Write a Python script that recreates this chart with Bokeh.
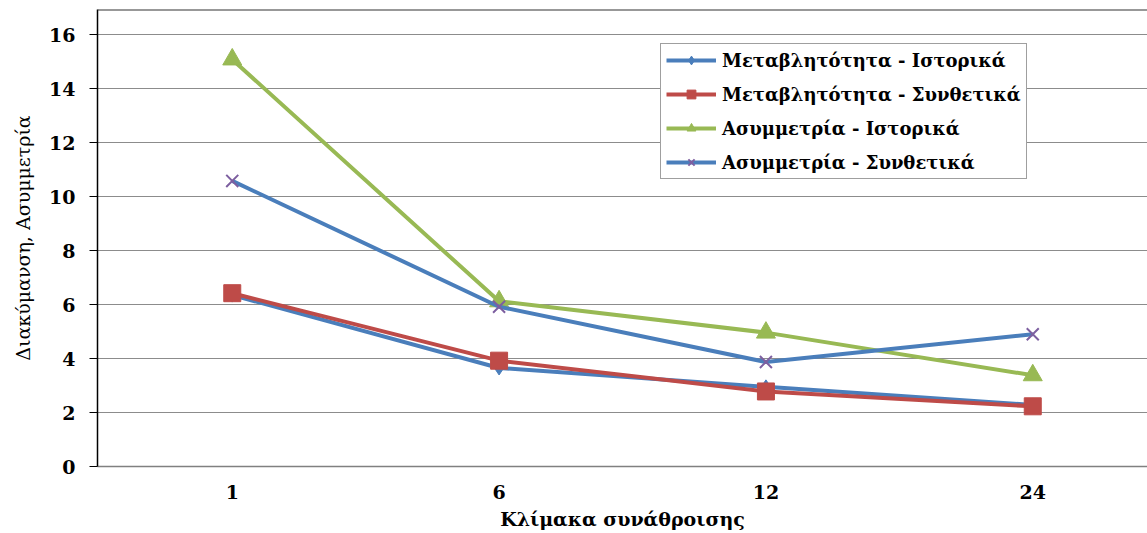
from bokeh.plotting import figure
from bokeh.models import Range1d, Legend, LegendItem, Span, FixedTicker, ColumnDataSource
from bokeh.embed import file_html
from bokeh.resources import INLINE

categories = ["1", "6", "12", "24"]
var_hist = [6.35, 3.65, 2.95, 2.28]
var_synth = [6.42, 3.92, 2.78, 2.23]
skew_hist = [15.08, 6.12, 4.96, 3.38]
skew_synth = [10.58, 5.92, 3.87, 4.9]
y_ticks = [0, 2, 4, 6, 8, 10, 12, 14, 16]
labels = ["Μεταβλητότητα - Ιστορικά", "Μεταβλητότητα - Συνθετικά",
          "Ασυμμετρία - Ιστορικά", "Ασυμμετρία - Συνθετικά"]

xs = list(range(len(categories)))
FONT = "DejaVu Serif"

p = figure(width=1147, height=533, output_backend="svg", toolbar_location=None,
           x_range=Range1d(-0.505, 3.43), y_range=Range1d(0, 16.93),
           min_border_left=97, min_border_right=0, min_border_top=9, min_border_bottom=67)
p.outline_line_color = None
p.background_fill_color = "white"
p.border_fill_color = "white"

src = ColumnDataSource(dict(x=xs, v1=var_hist, v2=var_synth, s1=skew_hist, s2=skew_synth))

BLUE = "#4A7EBB"
RED = "#BE4B48"
GREEN = "#98B954"
PURPLE = "#7D5FA0"
LW = 4

r1l = p.line("x", "v1", source=src, line_color=BLUE, line_width=LW)
r1m = p.scatter("x", "v1", source=src, marker="diamond", size=14, fill_color=BLUE, line_color=BLUE)
r2l = p.line("x", "v2", source=src, line_color=RED, line_width=LW)
r2m = p.scatter("x", "v2", source=src, marker="square", size=17, fill_color=RED, line_color=RED)
r3l = p.line("x", "s1", source=src, line_color=GREEN, line_width=LW)
r3m = p.scatter("x", "s1", source=src, marker="triangle", size=19, fill_color=GREEN, line_color=GREEN)
r4l = p.line("x", "s2", source=src, line_color=BLUE, line_width=LW)
r4m = p.scatter("x", "s2", source=src, marker="x", size=17, line_color=PURPLE, line_width=2)

# axes
p.xaxis.ticker = FixedTicker(ticks=xs)
p.xaxis.major_label_overrides = {i: c for i, c in enumerate(categories)}
p.xaxis.major_tick_line_color = None
p.xaxis.minor_tick_line_color = None
p.xaxis.axis_line_color = "#808080"
p.xaxis.axis_line_width = 1.5
p.xaxis.major_label_text_font = FONT
p.xaxis.major_label_text_font_style = "bold"
p.xaxis.major_label_text_font_size = "19px"
p.xaxis.major_label_text_color = "black"
p.xaxis.major_label_standoff = 12
p.xaxis.axis_label = "Κλίμακα συνάθροισης"
p.xaxis.axis_label_text_font = FONT
p.xaxis.axis_label_text_font_style = "bold"
p.xaxis.axis_label_text_font_size = "19px"
p.xaxis.axis_label_text_color = "black"
p.xaxis.axis_label_standoff = 6

p.yaxis.ticker = FixedTicker(ticks=y_ticks)
p.yaxis.minor_tick_line_color = None
p.yaxis.major_tick_out = 8
p.yaxis.major_tick_in = 0
p.yaxis.major_tick_line_color = "black"
p.yaxis.axis_line_color = "black"
p.yaxis.axis_line_width = 1.5
p.yaxis.major_label_text_font = FONT
p.yaxis.major_label_text_font_style = "bold"
p.yaxis.major_label_text_font_size = "19px"
p.yaxis.major_label_text_color = "black"
p.yaxis.major_label_standoff = 14
p.yaxis.axis_label = "Διακύμανση, Ασυμμετρία"
p.yaxis.axis_label_text_font = FONT
p.yaxis.axis_label_text_font_style = "normal"
p.yaxis.axis_label_text_font_size = "19px"
p.yaxis.axis_label_text_color = "black"
p.yaxis.axis_label_standoff = 12

p.xgrid.grid_line_color = None
p.ygrid.grid_line_color = "#8C8C8C"
p.ygrid.grid_line_width = 1

top = Span(location=16.93, dimension="width", line_color="#333333", line_width=2)
p.add_layout(top)

legend = Legend(items=[
    LegendItem(label=labels[0], renderers=[r1l, r1m]),
    LegendItem(label=labels[1], renderers=[r2l, r2m]),
    LegendItem(label=labels[2], renderers=[r3l, r3m]),
    LegendItem(label=labels[3], renderers=[r4l, r4m]),
], location=(563, 287))
legend.label_text_font = FONT
legend.label_text_font_style = "bold"
legend.label_text_font_size = "18px"
legend.label_text_color = "black"
legend.border_line_color = "#404040"
legend.border_line_width = 1.5
legend.glyph_width = 50
legend.glyph_height = 22
legend.label_height = 22
legend.spacing = 12
legend.padding = 5
legend.margin = 0
legend.label_standoff = 6
legend.background_fill_alpha = 1
p.add_layout(legend)

open("out.html", "w").write(file_html(p, INLINE))
